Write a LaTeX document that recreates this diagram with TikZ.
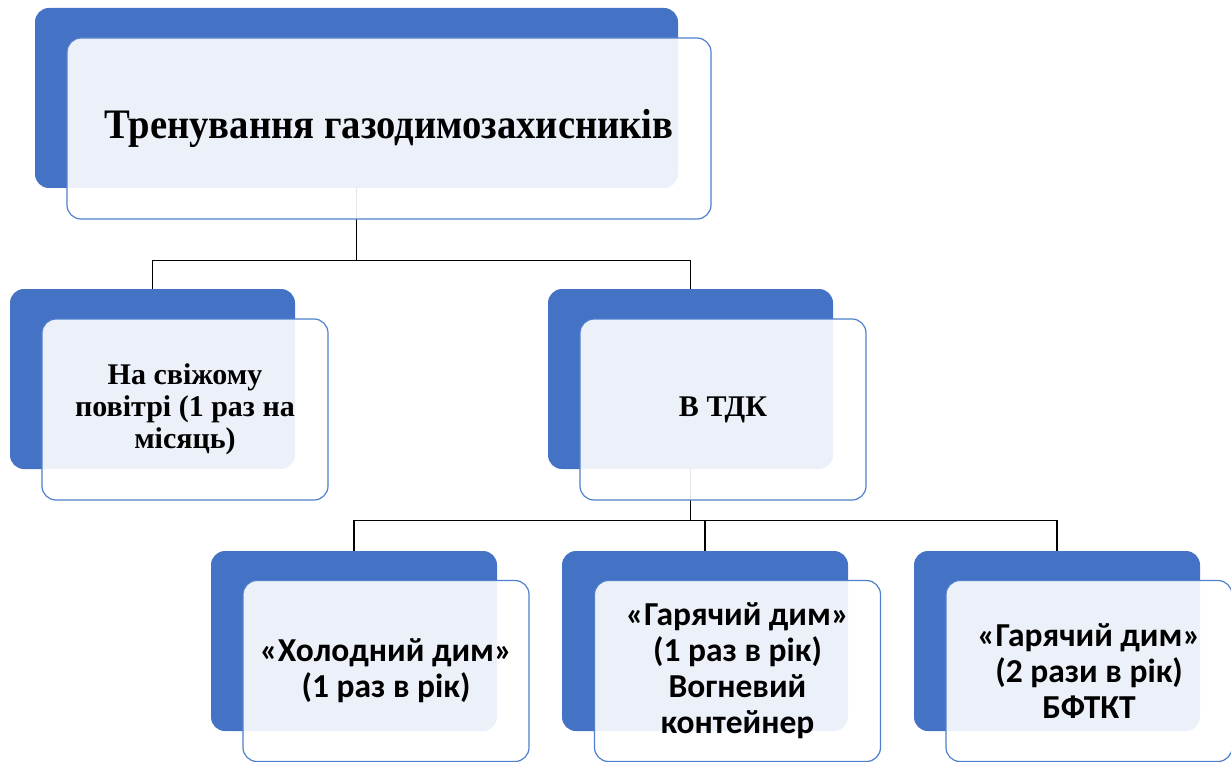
\documentclass[tikz,border=0pt]{standalone}
\usepackage{fontspec}
\setmainfont{Liberation Serif}
\newfontfamily\narrowserif[FakeStretch=0.92]{Liberation Serif}
\newfontfamily\calibrifont{Carlito}
\definecolor{blueC}{HTML}{4472C4}
\definecolor{borderC}{HTML}{5080CC}
\begin{document}
\begin{tikzpicture}[x=1pt,y=-1pt,
  backbox/.style={fill=blueC, draw=none, rounded corners=14pt, minimum width=286pt, minimum height=180pt, inner sep=0pt},
  frontbox/.style={fill=white, fill opacity=0.9, text opacity=1, draw=borderC, draw opacity=1, line width=1.2pt, rounded corners=14pt, minimum width=286pt, minimum height=181pt, align=center, inner sep=0pt},
  serifbig/.style={font=\narrowserif\fontsize{42}{48}\selectfont\bfseries},
  serifmid/.style={font=\fontsize{30}{32}\selectfont\bfseries},
  sansbot/.style={font=\calibrifont\fontsize{33.5}{36}\selectfont\bfseries},
  conn/.style={draw=black, line width=1.1pt}]
\useasboundingbox (0,0) rectangle (1231,762);
% back boxes
\node[backbox, minimum width=643pt] (topB) at (356.5,98) {};
\node[backbox, minimum width=285pt] (leftB) at (152.5,379) {};
\node[backbox, minimum width=285pt] (rightB) at (690.5,379) {};
\node[backbox] (b1B) at (354,641) {};
\node[backbox] (b2B) at (705,641) {};
\node[backbox] (b3B) at (1057,641) {};
% connectors
\draw[conn] (topB.south) -- ++(0,72) -| (leftB.north);
\draw[conn] (topB.south) ++(0,72) -| (rightB.north);
\draw[conn] (rightB.south) -- ++(0,51) -| (b1B.north);
\draw[conn] (rightB.south) ++(0,51) -| (b2B.north);
\draw[conn] (rightB.south) ++(0,51) -| (b3B.north);
% front boxes
\node[frontbox, serifbig, minimum width=644pt] (top) at (389,128.5) {Тренування газодимозахисників};
\node[frontbox, serifmid] (left) at (185,409.5) {На свіжому\\повітрі (1 раз на\\місяць)};
\node[frontbox, serifmid] (right) at (723,409.5) {В ТДК};
\node[frontbox, sansbot] (b1) at (386,671) {«Холодний дим»\\(1 раз в рік)};
\node[frontbox, sansbot] (b2) at (737.5,671) {«Гарячий дим»\\(1 раз в рік)\\Вогневий\\контейнер};
\node[frontbox, sansbot] (b3) at (1089,671) {«Гарячий дим»\\(2 рази в рік)\\БФТКТ};
\end{tikzpicture}
\end{document}
